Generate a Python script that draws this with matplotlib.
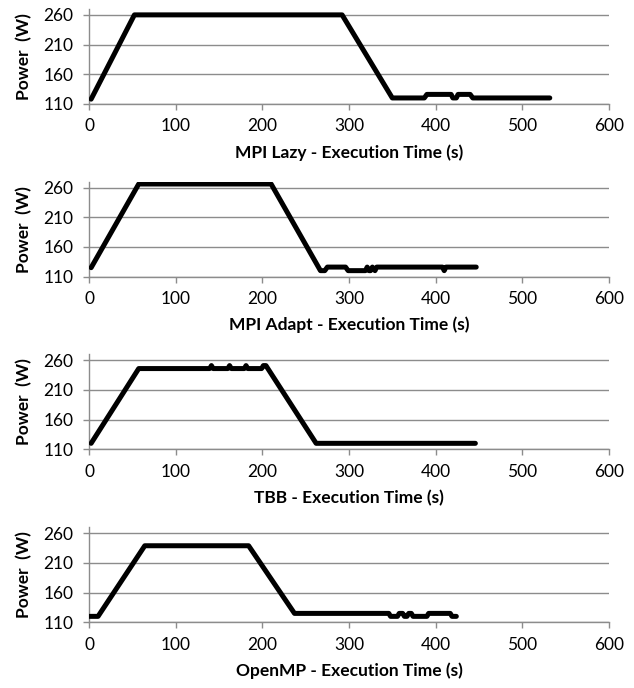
import matplotlib
matplotlib.use("Agg")
import matplotlib.pyplot as plt

# power traces (time in s, power in W)
lazy_t = [2, 52, 292, 350, 387, 390, 418, 420, 424, 426, 440, 443, 532]
lazy_w = [118, 260, 260, 120, 120, 126, 126, 120, 120, 126, 126, 120, 120]

adapt_t = [2, 57, 210, 267, 272, 275, 296, 299, 319, 321, 323, 325, 327, 330, 332, 408, 410, 412, 447]
adapt_w = [125, 266, 266, 120, 120, 126, 126, 120, 120, 126, 120, 120, 126, 120, 126, 126, 120, 126, 126]

tbb_t = [2, 57, 139, 141, 143, 160, 162, 164, 179, 181, 183, 199, 201, 204, 262, 446]
tbb_w = [120, 246, 246, 251, 246, 246, 251, 246, 246, 251, 246, 246, 251, 251, 120, 120]

omp_t = [0, 10, 64, 184, 237, 346, 348, 356, 358, 362, 364, 367, 369, 372, 374, 390, 392, 417, 419, 424]
omp_w = [120, 120, 239, 239, 125, 125, 120, 120, 125, 125, 120, 120, 125, 125, 120, 120, 125, 125, 120, 120]

x_labels = [
    "MPI Lazy - Execution Time (s)",
    "MPI Adapt - Execution Time (s)",
    "TBB - Execution Time (s)",
    "OpenMP - Execution Time (s)",
]
x_ticks = [0, 100, 200, 300, 400, 500, 600]
y_ticks = [110, 160, 210, 260]

plt.rcParams["font.family"] = ["Lato", "DejaVu Sans"]

GRID = "#8c8c8c"

fig = plt.figure(figsize=(6.34, 6.88), dpi=100)
bottoms = [0.849, 0.598, 0.347, 0.0955]
series = [(lazy_t, lazy_w), (adapt_t, adapt_w), (tbb_t, tbb_w), (omp_t, omp_w)]

for bottom, (t, w), label in zip(bottoms, series, x_labels):
    ax = fig.add_axes([0.141, bottom, 0.819, 0.138])
    ax.plot(t, w, color="black", lw=3.6, solid_capstyle="round", solid_joinstyle="round", zorder=3)
    ax.set_xlim(0, 600)
    ax.set_ylim(110, 270)
    ax.set_xticks(x_ticks)
    ax.set_yticks(y_ticks)
    ax.grid(axis="y", color=GRID, lw=1.0)
    ax.set_axisbelow(True)
    for side in ["top", "right"]:
        ax.spines[side].set_visible(False)
    for side in ["left", "bottom"]:
        ax.spines[side].set_color(GRID)
        ax.spines[side].set_linewidth(1.0)
    ax.tick_params(axis="both", direction="out", length=4.5, width=1.0, color=GRID,
                   labelsize=12.5, labelcolor="black")
    ax.tick_params(axis="y", pad=7)
    ax.tick_params(axis="x", pad=6)
    ax.set_xlabel(label, fontsize=12.5, fontweight="bold", labelpad=7)
    ax.set_ylabel("Power  (W)", fontsize=12.5, fontweight="bold", labelpad=8)

fig.savefig("out.png", dpi=100)
